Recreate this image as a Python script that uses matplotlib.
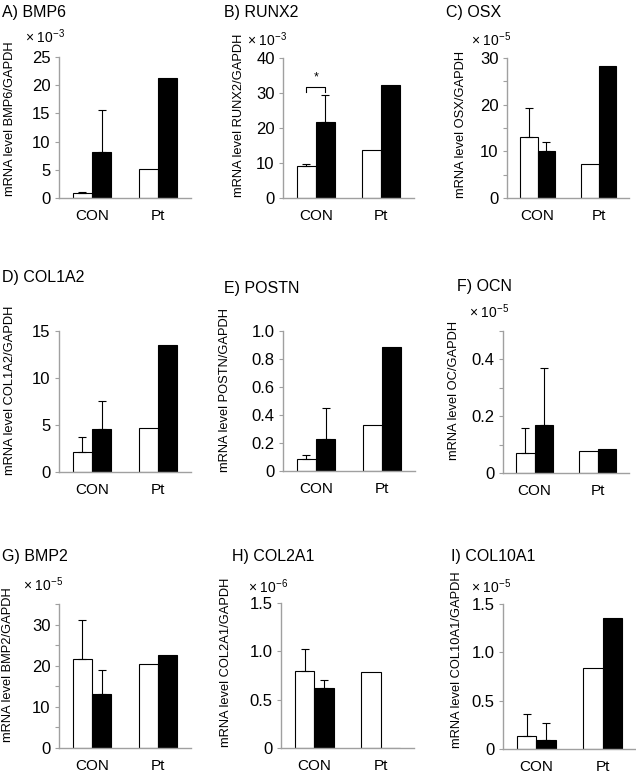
import numpy as np
from matplotlib import pyplot as plt
from matplotlib.ticker import MultipleLocator, FuncFormatter

plt.rcParams['font.family'] = ['Liberation Sans', 'DejaVu Sans']
plt.rcParams['mathtext.fontset'] = 'custom'
plt.rcParams['mathtext.rm'] = 'Liberation Sans'
plt.rcParams['mathtext.default'] = 'regular'

W, H = 636, 776

groups = ["CON", "Pt"]

# mean values (white = control medium, black = treated) and upper SD
bmp6_white = [0.8, 5.1]
bmp6_black = [8.2, 21.2]
bmp6_err_white = [0.3, 0]
bmp6_err_black = [7.4, 0]

runx2_white = [9.2, 13.7]
runx2_black = [21.8, 32.4]
runx2_err_white = [0.5, 0]
runx2_err_black = [7.7, 0]

osx_white = [13.1, 7.2]
osx_black = [10.1, 28.2]
osx_err_white = [6.2, 0]
osx_err_black = [1.9, 0]

col1a2_white = [2.1, 4.7]
col1a2_black = [4.6, 13.5]
col1a2_err_white = [1.6, 0]
col1a2_err_black = [3.0, 0]

postn_white = [0.085, 0.33]
postn_black = [0.23, 0.885]
postn_err_white = [0.03, 0]
postn_err_black = [0.22, 0]

ocn_white = [0.072, 0.079]
ocn_black = [0.17, 0.086]
ocn_err_white = [0.085, 0]
ocn_err_black = [0.20, 0]

bmp2_white = [21.7, 20.5]
bmp2_black = [13.1, 22.5]
bmp2_err_white = [9.3, 0]
bmp2_err_black = [5.9, 0]

col2a1_white = [0.80, 0.79]
col2a1_black = [0.62, 0.0]
col2a1_err_white = [0.22, 0]
col2a1_err_black = [0.08, 0]

col10a1_white = [0.13, 0.84]
col10a1_black = [0.09, 1.36]
col10a1_err_white = [0.23, 0]
col10a1_err_black = [0.175, 0]

panels = [
    # title, ylabel, white, black, err_w, err_b, ymax, major, minor, decimals, exponent
    ("A) BMP6", "mRNA level BMP6/GAPDH", bmp6_white, bmp6_black, bmp6_err_white, bmp6_err_black, 25, 5, None, 0, "-3"),
    ("B) RUNX2", "mRNA level RUNX2/GAPDH", runx2_white, runx2_black, runx2_err_white, runx2_err_black, 40, 10, None, 0, "-3"),
    ("C) OSX", "mRNA level OSX/GAPDH", osx_white, osx_black, osx_err_white, osx_err_black, 30, 10, 5, 0, "-5"),
    ("D) COL1A2", "mRNA level COL1A2/GAPDH", col1a2_white, col1a2_black, col1a2_err_white, col1a2_err_black, 15, 5, None, 0, None),
    ("E) POSTN", "mRNA level POSTN/GAPDH", postn_white, postn_black, postn_err_white, postn_err_black, 1.0, 0.2, None, 1, None),
    ("F) OCN", "mRNA level OC/GAPDH", ocn_white, ocn_black, ocn_err_white, ocn_err_black, 0.5, 0.2, 0.1, 1, "-5"),
    ("G) BMP2", "mRNA level BMP2/GAPDH", bmp2_white, bmp2_black, bmp2_err_white, bmp2_err_black, 35, 10, 5, 0, "-5"),
    ("H) COL2A1", "mRNA level COL2A1/GAPDH", col2a1_white, col2a1_black, col2a1_err_white, col2a1_err_black, 1.5, 0.5, None, 1, "-6"),
    ("I) COL10A1", "mRNA level COL10A1/GAPDH", col10a1_white, col10a1_black, col10a1_err_white, col10a1_err_black, 1.5, 0.5, None, 1, "-5"),
]

# layout in pixels: axes (left, right, top, bottom), title (x, y), ylabel (x, y), exponent (x, y)
axes_px = [(59, 191, 57, 198), (283, 414, 58, 198), (507, 629, 58, 198),
           (59, 191, 331, 472), (283, 415, 331, 471), (503, 629, 331, 473),
           (59, 191, 604, 748), (281, 414, 603, 748), (503, 636, 604, 749)]
title_px = [(2, 12), (224, 12), (446, 12), (2, 277), (224, 288), (457, 287),
            (2, 557), (232, 556), (451, 557)]
ylabel_px = [(10, 119), (239, 115), (461, 124), (10, 390), (225, 390), (454, 390),
             (8, 665), (226, 662), (457, 660)]
exp_px = [(25, 37), (247, 40), (471, 40), None, None, (469, 312), (23, 585), (248, 587), (471, 587)]

fig = plt.figure(figsize=(W / 100, H / 100), dpi=100)

spine_col = '#a0a0a0'
x = np.arange(len(groups))
bw = 0.29

for i, (title, ylab, wv, bv, ew, eb, ymax, major, minor, dec, expo) in enumerate(panels):
    l, r, t, b = axes_px[i]
    ax = fig.add_axes([l / W, 1 - b / H, (r - l) / W, (b - t) / H])
    ax.bar(x - bw / 2, wv, bw, color='white', edgecolor='black', linewidth=0.8, zorder=2)
    ax.bar(x + bw / 2, bv, bw, color='black', edgecolor='black', linewidth=0.8, zorder=2)
    for xs, vals, errs in ((x - bw / 2, wv, ew), (x + bw / 2, bv, eb)):
        for xi, v, e in zip(xs, vals, errs):
            if e > 0:
                ax.errorbar(xi, v, yerr=[[0], [e]], fmt='none', ecolor='black',
                            elinewidth=0.8, capsize=3, capthick=0.8, zorder=3)
    ax.set_xlim(-0.5, 1.5)
    ax.set_ylim(0, ymax)
    ax.set_xticks(x)
    ax.set_xticklabels(groups, fontsize=11)
    ax.tick_params(axis='x', length=0, pad=8)
    ax.yaxis.set_major_locator(MultipleLocator(major))
    if minor:
        ax.yaxis.set_minor_locator(MultipleLocator(minor))
    ax.yaxis.set_major_formatter(FuncFormatter(
        lambda v, p, d=dec: "0" if abs(v) < 1e-9 else f"{v:.{d}f}"))
    ax.tick_params(axis='y', which='both', length=3, width=0.8, color=spine_col,
                   labelsize=12, pad=3)
    for s in ('top', 'right'):
        ax.spines[s].set_visible(False)
    for s in ('left', 'bottom'):
        ax.spines[s].set_color(spine_col)
        ax.spines[s].set_linewidth(1.0)

    tx, ty = title_px[i]
    fig.text(tx / W, 1 - ty / H, title, fontsize=11.5, ha='left', va='center')
    lx, ly = ylabel_px[i]
    fig.text(lx / W, 1 - ly / H, ylab, fontsize=9.3, rotation=90, ha='center', va='center')
    if expo:
        ex, ey = exp_px[i]
        fig.text(ex / W, 1 - ey / H, "× 10$^{" + expo + "}$", fontsize=10,
                 ha='left', va='center')

    if title.startswith("B)"):
        # significance bracket between CON bars
        x0, x1 = -bw / 2, bw / 2
        ax.plot([x0, x0, x1, x1], [30.4, 31.7, 31.7, 30.4], color='black',
                linewidth=0.8, clip_on=False)
        ax.text(0, 32.6, "*", ha='center', va='bottom', fontsize=9)

fig.savefig("out.png", dpi=100)
